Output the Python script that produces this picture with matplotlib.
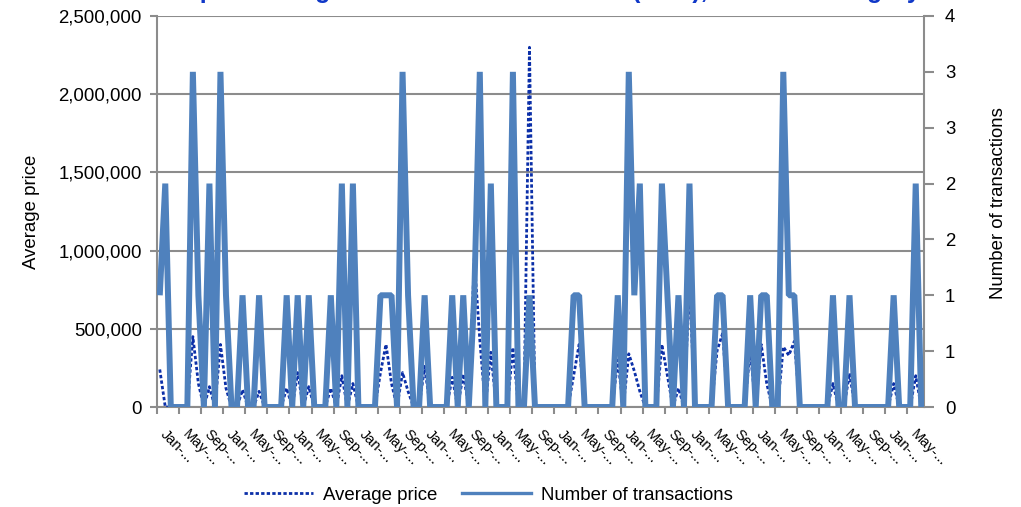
import math
import matplotlib
matplotlib.use("Agg")
import matplotlib.pyplot as plt
from matplotlib.ticker import FuncFormatter, FixedLocator, NullFormatter
from matplotlib.lines import Line2D
import numpy as np

plt.rcParams['font.family'] = ['Liberation Sans', 'DejaVu Sans']

# ---------------- data ----------------
label_months = ["Jan-...", "May-...", "Sep-..."]
tick_labels = [label_months[k % 3] for k in range(35)]

transactions = [
    1, 2, 0, 0, 0, 0, 3, 1, 0, 2,
    0, 3, 1, 0, 0, 1, 0, 0, 1, 0,
    0, 0, 0, 1, 0, 1, 0, 1, 0, 0,
    0, 1, 0, 2, 0, 2, 0, 0, 0, 0,
    1, 1, 1, 0, 3, 1, 0, 0, 1, 0,
    0, 0, 0, 1, 0, 1, 0, 1, 3, 0,
    2, 0, 0, 0, 3, 0, 0, 1, 0, 0,
    0, 0, 0, 0, 0, 1, 1, 0, 0, 0,
    0, 0, 0, 1, 0, 3, 1, 2, 0, 0,
    0, 2, 1, 0, 1, 0, 2, 0, 0, 0,
    0, 1, 1, 0, 0, 0, 0, 1, 0, 1,
    1, 0, 0, 3, 1, 1, 0, 0, 0, 0,
    0, 0, 1, 0, 0, 1, 0, 0, 0, 0,
    0, 0, 0, 1, 0, 0, 0, 2, 0,
]

avg_price = [
    240000, 0, 0, 0, 0, 0, 450000, 150000, 0, 130000,
    0, 400000, 120000, 0, 0, 110000, 0, 0, 100000, 0,
    0, 0, 0, 120000, 0, 220000, 0, 130000, 0, 0,
    0, 120000, 0, 200000, 0, 150000, 0, 0, 0, 0,
    220000, 400000, 150000, 0, 220000, 100000, 0, 0, 260000, 0,
    0, 0, 0, 190000, 0, 210000, 0, 950000, 430000, 0,
    350000, 0, 0, 0, 380000, 0, 0, 2300000, 0, 0,
    0, 0, 0, 0, 0, 200000, 400000, 0, 0, 0,
    0, 0, 0, 300000, 0, 340000, 230000, 100000, 0, 0,
    0, 400000, 200000, 0, 120000, 0, 780000, 0, 0, 0,
    0, 360000, 470000, 0, 0, 0, 0, 360000, 0, 400000,
    150000, 0, 0, 385000, 330000, 420000, 0, 0, 0, 0,
    0, 0, 150000, 0, 0, 215000, 0, 0, 0, 0,
    0, 0, 0, 150000, 0, 0, 0, 200000, 0,
]

price_ticks = [0, 500000, 1000000, 1500000, 2000000, 2500000]
count_ticks = [0, 0.5, 1, 1.5, 2, 2.5, 3, 3.5]

title_text = "Shops - average number of transactions (total), for each category"

# ---------------- style ----------------
W, H = 1021, 507
GRID = "#8c8c8c"
SOLID = "#4F81BD"
DOT = "#0B2FA8"
FS = 13.4

fig = plt.figure(figsize=(W / 100, H / 100), dpi=100)
L, R, T, B = 157, 924, 16, 407
ax = fig.add_axes([L / W, 1 - B / H, (R - L) / W, (B - T) / H])

n = len(transactions)
x = np.arange(n)

ax.plot(x, avg_price, color=DOT, lw=2.0, linestyle=(0, (1.2, 0.8)),
        dash_capstyle="butt", zorder=3)
ax.set_xlim(-0.5, n - 0.5)
ax.set_ylim(price_ticks[0], price_ticks[-1])
ax.set_yticks(price_ticks)
ax.yaxis.set_major_formatter(FuncFormatter(lambda v, p: f"{int(round(v)):,}"))
ax.grid(axis="y", color=GRID, lw=1.5)
ax.set_axisbelow(True)
for s in ["top", "right"]:
    ax.spines[s].set_visible(False)
for s in ["left", "bottom"]:
    ax.spines[s].set_color(GRID)
    ax.spines[s].set_linewidth(1.5)
ax.tick_params(axis="y", length=5, width=1.5, color=GRID, labelsize=FS, pad=6)

# x ticks: marks at category boundaries, labels at every 4th category
bounds = np.arange(0, n + 1, 4) - 0.5
ax.xaxis.set_major_locator(FixedLocator(bounds))
ax.xaxis.set_major_formatter(NullFormatter())
label_pos = np.arange(0, 4 * len(tick_labels), 4)
ax.xaxis.set_minor_locator(FixedLocator(label_pos))
ax.set_xticklabels(tick_labels, minor=True)
ax.tick_params(axis="x", which="major", length=5, width=1.5, color=GRID)
ax.tick_params(axis="x", which="minor", length=0, pad=20, labelsize=10.5)
for lbl in ax.get_xticklabels(minor=True):
    lbl.set_rotation(-45)
    lbl.set_ha("left")
    lbl.set_va("baseline")
    lbl.set_rotation_mode("anchor")

ax.set_ylabel("Average price", fontsize=FS)
ax.yaxis.set_label_coords((40 - L) / (R - L), 0.5)

ax2 = ax.twinx()
ax2.plot(x, transactions, color=SOLID, lw=4.3, solid_joinstyle="bevel",
         solid_capstyle="butt", zorder=4)
ax2.set_ylim(count_ticks[0], count_ticks[-1])
ax2.set_yticks(count_ticks)
ax2.yaxis.set_major_formatter(FuncFormatter(lambda v, p: str(int(math.floor(v + 0.5)))))
ax2.tick_params(axis="y", length=7, width=1.5, color=GRID, labelsize=FS, pad=8)
for s in ["top", "left", "bottom"]:
    ax2.spines[s].set_visible(False)
ax2.spines["right"].set_color(GRID)
ax2.spines["right"].set_linewidth(1.5)
ax2.set_ylabel("Number of transactions", fontsize=FS)
ax2.yaxis.set_label_coords((990 - L) / (R - L), (B - 203) / (B - T))

handles = [Line2D([], [], color=DOT, lw=2.0, linestyle=(0, (1.2, 0.8))),
           Line2D([], [], color=SOLID, lw=2.4)]
fig.legend(handles, ["Average price", "Number of transactions"],
           loc="center", bbox_to_anchor=(488.5 / W, 1 - 495 / H), ncol=2,
           frameon=False, fontsize=FS, handlelength=3.7, handletextpad=0.55,
           columnspacing=1.3)

# chart title sits above the canvas; only its descenders show, as in the reference
fig.text(153 / W, 1 + 2.2 / H, title_text, ha="left", va="baseline",
         fontsize=17.8, fontweight="bold", color="#1038C8")

fig.savefig("out.png", dpi=100)
